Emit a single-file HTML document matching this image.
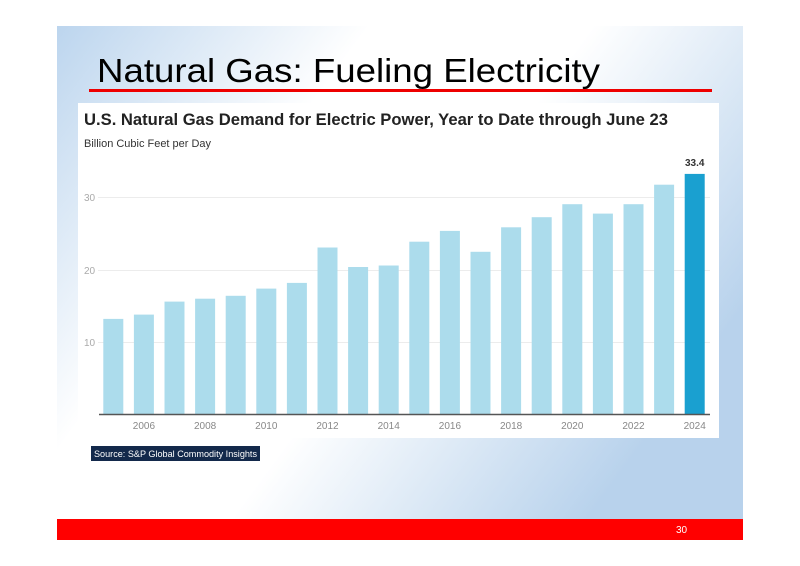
<!DOCTYPE html>
<html><head><meta charset="utf-8"><style>
html,body{margin:0;padding:0;background:#fff;}
svg{display:block;}
</style></head><body>
<svg width="800" height="566" viewBox="0 0 800 566" xmlns="http://www.w3.org/2000/svg">
<defs>
<linearGradient id="bg" x1="0" y1="0" x2="1" y2="0.55">
<stop offset="0" stop-color="#bcd5ee"/>
<stop offset="0.35" stop-color="#ffffff"/>
<stop offset="0.6" stop-color="#ffffff"/>
<stop offset="1" stop-color="#b8d2ec"/>
</linearGradient>
</defs>
<rect x="0" y="0" width="800" height="566" fill="#fff"/>
<rect x="57" y="26" width="686" height="514" fill="url(#bg)"/>
<text x="97" y="82" font-family="Liberation Sans, sans-serif" font-size="33" fill="#000" textLength="503" lengthAdjust="spacingAndGlyphs">Natural Gas: Fueling Electricity</text>
<rect x="89" y="89" width="623" height="3" fill="#ee0000"/>
<rect x="78" y="103" width="641" height="335" fill="#fff"/>
<text x="84" y="125" font-family="Liberation Sans, sans-serif" font-size="17" font-weight="bold" fill="#222" textLength="584" lengthAdjust="spacingAndGlyphs">U.S. Natural Gas Demand for Electric Power, Year to Date through June 23</text>
<text x="84" y="147" font-family="Liberation Sans, sans-serif" font-size="11" fill="#333" textLength="127" lengthAdjust="spacingAndGlyphs">Billion Cubic Feet per Day</text>
<g stroke="#ececec" stroke-width="1">
<line x1="98" y1="197.5" x2="710" y2="197.5"/>
<line x1="98" y1="270.5" x2="710" y2="270.5"/>
<line x1="98" y1="342.5" x2="710" y2="342.5"/>
</g>
<g font-family="Liberation Sans, sans-serif" font-size="10" fill="#aaa">
<text x="84" y="201">30</text><text x="84" y="274">20</text><text x="84" y="346">10</text>
</g>
<g fill="#acdcec">
<rect x="103.3" y="318.9" width="20" height="96.1"/>
<rect x="133.9" y="314.6" width="20" height="100.4"/>
<rect x="164.5" y="301.6" width="20" height="113.4"/>
<rect x="195.1" y="298.7" width="20" height="116.3"/>
<rect x="225.7" y="295.8" width="20" height="119.2"/>
<rect x="256.3" y="288.6" width="20" height="126.4"/>
<rect x="286.9" y="282.9" width="20" height="132.1"/>
<rect x="317.5" y="247.5" width="20" height="167.5"/>
<rect x="348.1" y="267.0" width="20" height="148.0"/>
<rect x="378.7" y="265.5" width="20" height="149.5"/>
<rect x="409.3" y="241.7" width="20" height="173.3"/>
<rect x="439.9" y="230.9" width="20" height="184.1"/>
<rect x="470.5" y="251.8" width="20" height="163.2"/>
<rect x="501.1" y="227.3" width="20" height="187.7"/>
<rect x="531.7" y="217.2" width="20" height="197.8"/>
<rect x="562.3" y="204.2" width="20" height="210.8"/>
<rect x="592.9" y="213.6" width="20" height="201.4"/>
<rect x="623.5" y="204.2" width="20" height="210.8"/>
<rect x="654.1" y="184.7" width="20" height="230.3"/>
</g>
<rect x="684.7" y="173.9" width="20" height="241.1" fill="#1aa0d0"/>
<text x="694.7" y="166" text-anchor="middle" font-family="Liberation Sans, sans-serif" font-size="10" font-weight="bold" fill="#333">33.4</text>
<line x1="99" y1="414.5" x2="710" y2="414.5" stroke="#555" stroke-width="1.5"/>
<g font-family="Liberation Sans, sans-serif" font-size="10" fill="#888" text-anchor="middle">
<text x="143.9" y="429">2006</text><text x="205.1" y="429">2008</text><text x="266.3" y="429">2010</text>
<text x="327.5" y="429">2012</text><text x="388.7" y="429">2014</text><text x="449.9" y="429">2016</text>
<text x="511.1" y="429">2018</text><text x="572.3" y="429">2020</text><text x="633.5" y="429">2022</text>
<text x="694.7" y="429">2024</text>
</g>
<rect x="91" y="446" width="169" height="15" fill="#13294b"/>
<text x="94" y="457" font-family="Liberation Sans, sans-serif" font-size="9.5" fill="#fff" textLength="163" lengthAdjust="spacingAndGlyphs">Source: S&amp;P Global Commodity Insights</text>
<rect x="57" y="519" width="686" height="21" fill="#ff0000"/>
<text x="676" y="533" font-family="Liberation Sans, sans-serif" font-size="10" fill="#fff">30</text>
</svg>
</body></html>
